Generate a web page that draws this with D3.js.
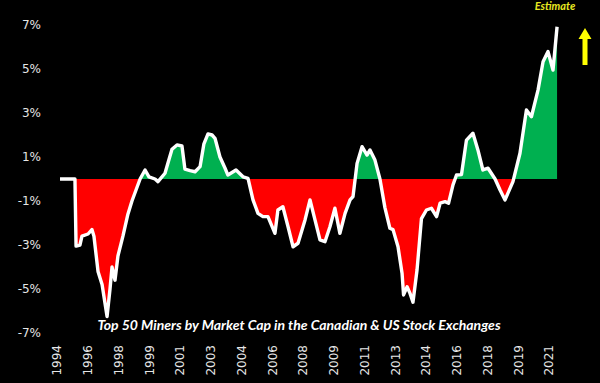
<!DOCTYPE html>
<html>
<head>
<meta charset="utf-8">
<script src="https://cdn.jsdelivr.net/npm/d3@7"></script>
<style>
  html, body { margin: 0; padding: 0; background: #000; }
  svg { display: block; }
  .ylab, .xlab { font-family: "DejaVu Sans", sans-serif; font-size: 12px; fill: #e6e6e6; }
</style>
</head>
<body>
<svg id="chart" width="600" height="383"></svg>
<script>
// decimal year of each point
const dates = [
  1995.08, 1995.89, 1995.95, 1996.16, 1996.27, 1996.60, 1996.81, 1996.92, 1997.14, 1997.36,
  1997.63, 1997.79, 1997.90, 1998.06, 1998.22, 1998.49, 1998.76, 1998.98, 1999.20, 1999.42,
  1999.69, 1999.90, 2000.23, 2000.39, 2000.77, 2000.99, 2001.15, 2001.42, 2001.69, 2001.85,
  2002.13, 2002.40, 2002.67, 2002.88, 2003.10, 2003.32, 2003.48, 2003.75, 2004.02, 2004.18,
  2004.62, 2005.00, 2005.27, 2005.54, 2005.81, 2006.08, 2006.35, 2006.73, 2006.89, 2007.16,
  2007.44, 2007.71, 2007.98, 2008.36, 2008.63, 2008.90, 2009.17, 2009.44, 2009.71, 2009.98,
  2010.25, 2010.53, 2010.80, 2010.96, 2011.18, 2011.45, 2011.72, 2011.88, 2012.15, 2012.42,
  2012.69, 2012.96, 2013.13, 2013.40, 2013.62, 2013.70, 2013.89, 2014.05, 2014.21, 2014.43,
  2014.67, 2014.94, 2015.21, 2015.49, 2015.68, 2015.95, 2016.14, 2016.38, 2016.57, 2016.84,
  2017.11, 2017.46, 2017.73, 2018.00, 2018.28, 2018.66, 2018.93, 2019.20, 2019.63, 2020.01,
  2020.36, 2020.63, 2020.99, 2021.26, 2021.53, 2021.80, 2022.02
];
// value in %
const values = [
  0.00, 0.00, -3.05, -3.00, -2.60, -2.50, -2.30, -2.60, -4.20, -4.80,
  -6.25, -5.00, -4.00, -4.60, -3.50, -2.60, -1.60, -1.00, -0.50, 0.00,
  0.41, 0.10, 0.00, -0.12, 0.26, 0.90, 1.35, 1.55, 1.50, 0.45,
  0.38, 0.33, 0.56, 1.60, 2.05, 2.00, 1.85, 1.00, 0.50, 0.18,
  0.41, 0.10, 0.03, -0.95, -1.56, -1.71, -1.71, -2.47, -1.41, -1.26,
  -2.17, -3.08, -2.92, -1.86, -0.95, -1.86, -2.77, -2.85, -2.17, -1.33,
  -2.47, -1.56, -0.95, -0.80, 0.71, 1.47, 1.09, 1.32, 0.86, 0.00,
  -1.30, -2.24, -2.30, -3.08, -4.30, -5.27, -4.90, -5.20, -5.60, -4.14,
  -1.80, -1.41, -1.33, -1.71, -1.10, -1.03, -1.10, -0.27, 0.18, 0.20,
  1.77, 2.08, 1.32, 0.41, 0.49, 0.00, -0.50, -0.95, -0.12, 1.17,
  3.14, 2.83, 4.05, 5.33, 5.79, 4.95, 6.92
];

const yTicks = [7, 5, 3, 1, -1, -3, -5, -7];
const xTickDates = [1994.917, 1996.583, 1998.25, 1999.917, 2001.583, 2003.25, 2004.917, 2006.583,
  2008.25, 2009.917, 2011.583, 2013.25, 2014.917, 2016.583, 2018.25, 2019.917, 2021.583];
const xTickLabels = ['1994', '1996', '1998', '1999', '2001', '2003', '2004', '2006',
  '2008', '2009', '2011', '2013', '2014', '2016', '2018', '2019', '2021'];

const title = 'Top 50 Miners by Market Cap in the Canadian & US Stock Exchanges';

const svg = d3.select('#chart');
const data = dates.map((d, i) => ({ t: d, v: values[i] }));

const x = d3.scaleLinear().domain([1994.917, 2021.583]).range([57, 549]);
const y = d3.scaleLinear().domain([-7, 7]).range([333, 25]);

const defs = svg.append('defs');
defs.append('clipPath').attr('id', 'above')
  .append('rect').attr('x', 0).attr('y', 0).attr('width', 600).attr('height', y(0));
defs.append('clipPath').attr('id', 'below')
  .append('rect').attr('x', 0).attr('y', y(0)).attr('width', 600).attr('height', 383 - y(0));

const area = d3.area().x(d => x(d.t)).y0(y(0)).y1(d => y(d.v));
const line = d3.line().x(d => x(d.t)).y(d => y(d.v));

svg.append('path').datum(data).attr('d', area)
  .attr('fill', '#00b050').attr('clip-path', 'url(#above)');
svg.append('path').datum(data).attr('d', area)
  .attr('fill', '#ff0000').attr('clip-path', 'url(#below)');

svg.append('path').datum(data).attr('d', line)
  .attr('fill', 'none').attr('stroke', '#fff').attr('stroke-width', 3.4)
  .attr('stroke-linejoin', 'round').attr('stroke-linecap', 'butt');

// y labels
svg.append('g').selectAll('text').data(yTicks).join('text')
  .attr('class', 'ylab')
  .attr('x', 41).attr('y', d => y(d)).attr('dy', '0.35em')
  .attr('text-anchor', 'end')
  .text(d => d + '%');

// x labels, rotated
svg.append('g').selectAll('text').data(xTickDates).join('text')
  .attr('class', 'xlab')
  .attr('transform', d => `translate(${x(d)},345) rotate(-90)`)
  .attr('dy', '0.36em')
  .attr('text-anchor', 'end')
  .text((d, i) => xTickLabels[i]);

// title
svg.append('text')
  .attr('x', 299).attr('y', 330)
  .attr('text-anchor', 'middle')
  .style('font-family', 'Lato, "Open Sans", sans-serif')
  .style('font-size', '14px').style('font-weight', 'bold').style('font-style', 'italic')
  .attr('fill', '#fff')
  .text(title);

// estimate note + arrow
svg.append('text')
  .attr('x', 555).attr('y', 10)
  .attr('text-anchor', 'middle')
  .style('font-family', 'Lato, "Open Sans", sans-serif')
  .style('font-size', '11px').style('font-weight', 'bold').style('font-style', 'italic')
  .attr('fill', '#e8e820')
  .text('Estimate');

svg.append('path')
  .attr('d', 'M585,28 L591.5,39 L587.5,39 L587.5,65 L582.5,65 L582.5,39 L578.5,39 Z')
  .attr('fill', '#ffff00');
</script>
</body>
</html>
